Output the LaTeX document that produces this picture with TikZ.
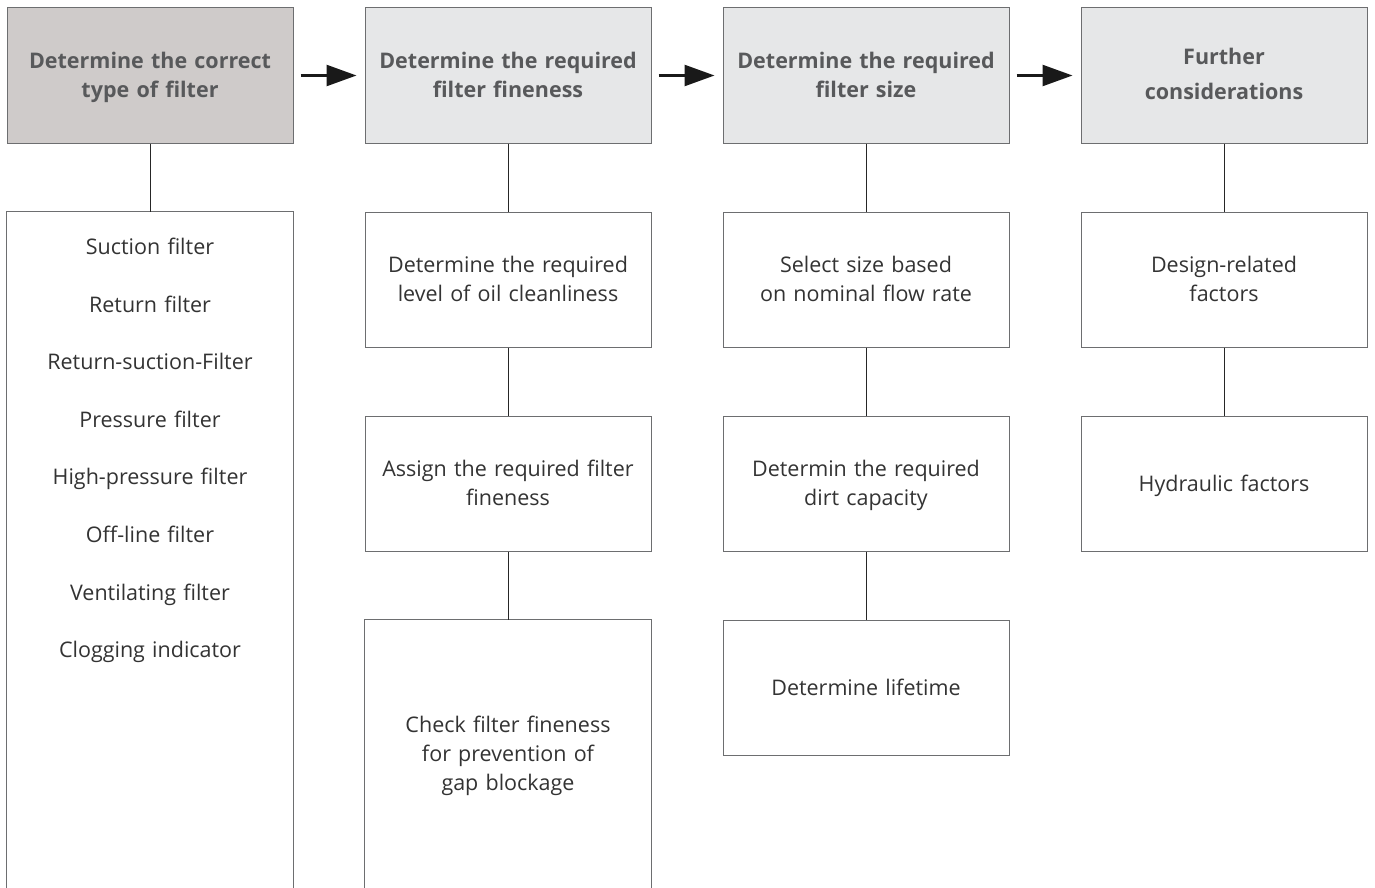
\documentclass[tikz,border=0pt]{standalone}
\usepackage{fontspec}
\setmainfont{Open Sans}
\usetikzlibrary{arrows.meta}
\definecolor{hdrA}{HTML}{CFCBCA}
\definecolor{hdrB}{HTML}{E6E7E8}
\definecolor{hdrtxt}{HTML}{58595B}
\definecolor{subtxt}{HTML}{333333}
\definecolor{edgec}{HTML}{6D6E70}
\newcommand\mystrut{\rule[-6.7pt]{0pt}{29pt}}
\begin{document}
\begin{tikzpicture}[x=1pt,y=-1pt,
  hdr/.style={draw=edgec,line width=1pt,fill=hdrB,minimum width=286pt,minimum height=135pt,text width=276pt,align=center,font=\fontsize{21.5}{29}\selectfont\bfseries,text=hdrtxt,inner sep=0pt,execute at begin node=\mystrut,execute at end node=\mystrut},
  sub/.style={draw=edgec,line width=1pt,minimum width=286pt,minimum height=135pt,text width=276pt,align=center,font=\fontsize{21.5}{29}\selectfont,text=subtxt,inner sep=0pt,execute at begin node=\mystrut,execute at end node=\mystrut},
  tall/.style={draw=none,minimum width=286pt,text width=276pt,align=center,font=\fontsize{21.5}{29}\selectfont,text=subtxt,inner sep=0pt},
  open/.style={draw=edgec,line width=1pt},
  link/.style={line width=1pt,draw=black!85},
  arr/.style={line width=2.5pt,draw=black!90,-{Triangle[length=30pt,width=21pt]}}
]
\useasboundingbox (0,0) rectangle (1375,888);
% headers
\node[hdr,fill=hdrA] (h1) at (150,75.5) {Determine the correct\\type of filter};
\node[hdr] (h2) at (508,75.5) {Determine the required\\filter fineness};
\node[hdr] (h3) at (866,75.5) {Determine the required\\filter size};
\node[hdr,font=\fontsize{21.5}{35}\selectfont\bfseries] (h4) at (1224,75.5) {Further\\considerations\rule[-8.7pt]{0pt}{0pt}};
% arrows
\draw[arr] ([xshift=7pt]h1.east) -- ([xshift=-8pt]h2.west);
\draw[arr] ([xshift=7pt]h2.east) -- ([xshift=-8pt]h3.west);
\draw[arr] ([xshift=7pt]h3.east) -- ([xshift=-8pt]h4.west);
% column 1
\node[tall,minimum height=676pt] (s1) at (150,550) {};
\draw[open] (s1.south west) |- (s1.north east) -- (s1.south east);
\node[tall,font=\fontsize{21.5}{57.6}\selectfont] (l1) at (150,450.5) {Suction filter\\Return filter\\Return-suction-Filter\\Pressure filter\\High-pressure filter\\Off-line filter\\Ventilating filter\\Clogging indicator};
\draw[link] (h1) -- (s1);
% column 2
\node[sub] (s21) at (508,279.5) {Determine the required\\level of oil cleanliness};
\node[sub] (s22) at (508,483.5) {Assign the required filter\\fineness};
\node[tall,minimum height=268pt,execute at begin node=\mystrut,execute at end node=\mystrut] (s23) at (508,754) {Check filter fineness\\for prevention of\\gap blockage};
\draw[open] (s23.south west) |- (s23.north east) -- (s23.south east);
\draw[link] (h2) -- (s21);
\draw[link] (s21) -- (s22);
\draw[link] (s22) -- (s23);
% column 3
\node[sub] (s31) at (866,279.5) {Select size based\\on nominal flow rate};
\node[sub] (s32) at (866,483.5) {Determin the required\\dirt capacity};
\node[sub] (s33) at (866,687.5) {Determine lifetime};
\draw[link] (h3) -- (s31);
\draw[link] (s31) -- (s32);
\draw[link] (s32) -- (s33);
% column 4
\node[sub] (s41) at (1224,279.5) {Design-related\\factors};
\node[sub] (s42) at (1224,483.5) {Hydraulic factors};
\draw[link] (h4) -- (s41);
\draw[link] (s41) -- (s42);
\end{tikzpicture}
\end{document}
